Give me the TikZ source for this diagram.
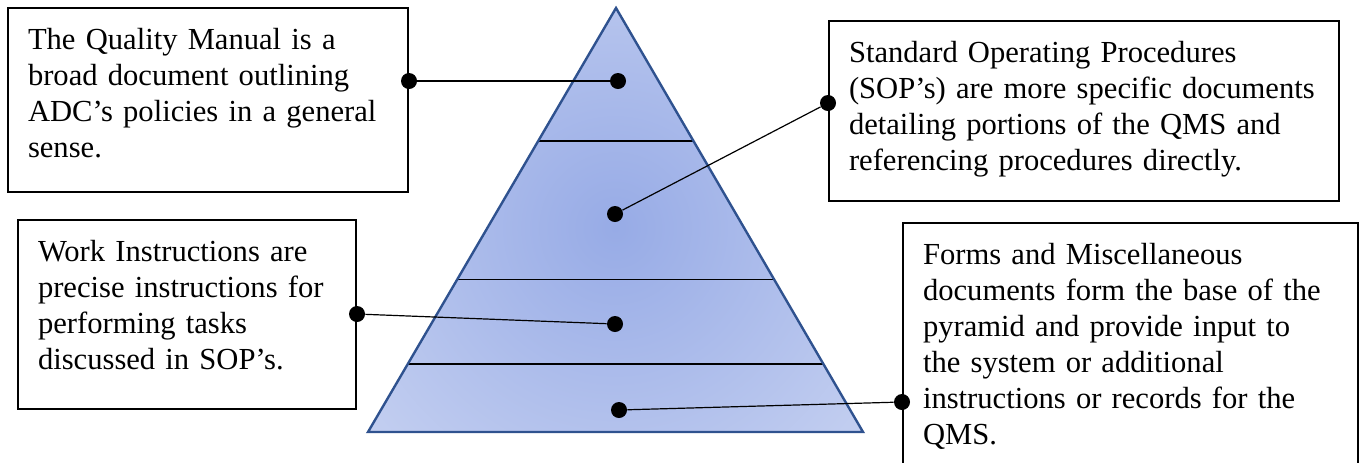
\documentclass[tikz,border=0pt]{standalone}
\usepackage{fontspec}
\setmainfont{Liberation Serif}
\usetikzlibrary{calc,positioning}
\definecolor{pyredge}{HTML}{2F528F}
\definecolor{pyrcore}{HTML}{97ABE6}
\definecolor{pyrrim}{HTML}{E0E6F7}

\begin{document}
\begin{tikzpicture}[
		x=0.5pt, y=-0.5pt,
		box/.style={rectangle, draw, line width=1pt, anchor=north west, align=left, inner xsep=10pt, inner ysep=0pt, text height=20.5pt, font=\fontsize{15.3}{18}\selectfont},
		dot/.style={circle, fill=black, inner sep=0pt, minimum size=8pt},
		link/.style={draw, line width=0.6pt},
		tier/.style={draw, line width=0.7pt}
	]
	\useasboundingbox (0,0) rectangle (1363,462);

	% Pyramid with soft blue centre
	\coordinate (apex) at (616,8);
	\coordinate (bl) at (368,432);
	\coordinate (br) at (863,432);
	\begin{scope}
		\clip (apex) -- (bl) -- (br) -- cycle;
		\shade[inner color=pyrcore, outer color=pyrrim] (615,228) circle (530);
	\end{scope}
	\foreach \t in {0.314,0.640,0.840}
		\draw[tier] ($(apex)!\t!(bl)$) -- ($(apex)!\t!(br)$);
	\draw[pyredge, line width=1.2pt] (apex) -- (bl) -- (br) -- cycle;

	% Text boxes
	\node (qm) [box, text width=180pt, text depth=71.5pt] at (7,7) {The Quality Manual is a\\ broad document outlining\\ ADC's policies in a general\\ sense.};

	\node (sop) [box, text width=235pt, text depth=69.5pt] at (828,20) {Standard Operating Procedures\\ (SOP's) are more specific documents\\ detailing portions of the QMS and\\ referencing procedures directly.};

	\node (wi) [box, text width=149pt, text depth=74pt] at (17,219) {Work Instructions are\\ precise instructions for\\ performing tasks\\ discussed in SOP's.};

	\node (forms) [box, text width=207.5pt, text depth=109.5pt] at (902,222) {Forms and Miscellaneous\\ documents form the base of the\\ pyramid and provide input to\\ the system or additional\\ instructions or records for the\\ QMS.};

	% Dots on the pyramid tiers and on the boxes
	\node (qmtip) [dot] at (618,81) {};
	\node (soptip) [dot] at (615,214) {};
	\node (witip) [dot] at (615,324) {};
	\node (formstip) [dot] at (619,410) {};

	\node (qmpin) [dot] at (qm.east |- qmtip) {};
	\node (soppin) [dot] at (sop.west |- 0,103) {};
	\node (wipin) [dot] at (wi.east |- 0,314) {};
	\node (formspin) [dot] at (forms.west |- 0,402) {};

	% Lines
	\draw [link] (qmpin) -- (qmtip);
	\draw [link] (soppin) -- (soptip);
	\draw [link] (wipin) -- (witip);
	\draw [link] (formspin) -- (formstip);
\end{tikzpicture}
\end{document}
